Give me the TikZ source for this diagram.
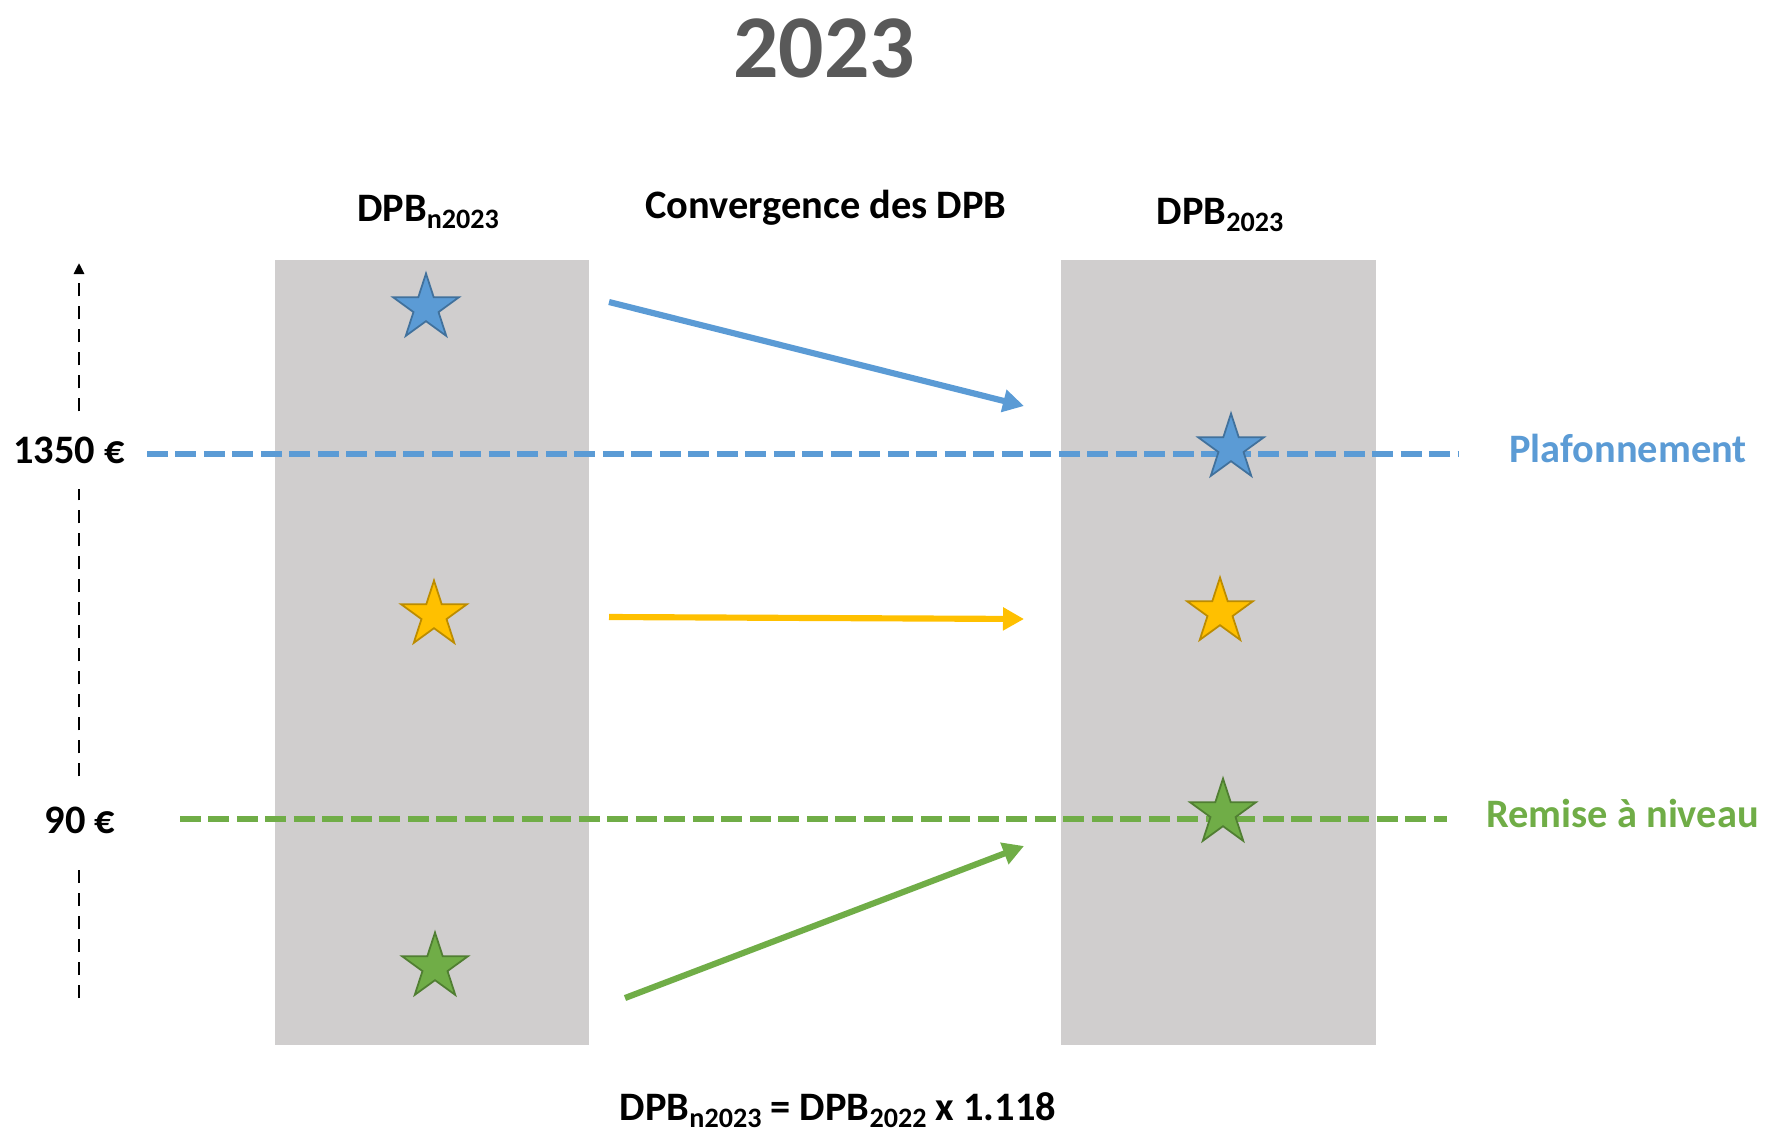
\documentclass[tikz,border=0pt]{standalone}
\usepackage{fontspec}
\setmainfont{Carlito}
\usetikzlibrary{arrows.meta,shapes.geometric}
\definecolor{colgray}{HTML}{D0CECE}
\definecolor{titlegray}{HTML}{595959}
\definecolor{ptblue}{HTML}{5B9BD5}
\definecolor{ptblueedge}{HTML}{41719C}
\definecolor{ptyellow}{HTML}{FFC000}
\definecolor{ptyellowedge}{HTML}{BC8C00}
\definecolor{ptgreen}{HTML}{70AD47}
\definecolor{ptgreenedge}{HTML}{507E32}
\newcommand\low[1]{\raisebox{-0.4ex}{\fontsize{16}{18}\selectfont #1}}

\begin{document}
\begin{tikzpicture}[x=0.02cm, y=-0.02cm,
    lbl/.style={font=\bfseries\fontsize{23}{28}\selectfont, inner sep=0pt},
    pt/.style={star, star points=5, star point ratio=2.618, minimum size=1.38cm,
        inner sep=0pt, line width=1pt},
    level/.style={line width=3.8pt, dash pattern=on 0.42cm off 0.15cm},
    move/.style={line width=3.5pt, -{Triangle[length=0.42cm,width=0.44cm]}},
    axis/.style={line width=1.5pt, dash pattern=on 0.26cm off 0.2cm}]
    \useasboundingbox (0,0) rectangle (1768,1136);

    %%%%% columns %%%%%
    \fill[colgray] (275,260) rectangle (589,1045);
    \fill[colgray] (1061,260) rectangle (1376,1045);

    %%%%% titles %%%%%
    \node[lbl, font=\bfseries\fontsize{51}{60}\selectfont, text=titlegray, anchor=base] (title) at (824,77) {2023};
    \node[lbl, anchor=base] (hdold) at (428,221) {DPB\low{n2023}};
    \node[lbl, anchor=base] (hdconv) at (826,218) {Convergence des DPB};
    \node[lbl, anchor=base] (hdnew) at (1220,224) {DPB\low{2023}};

    %%%%% value axis %%%%%
    \coordinate (axtop) at (79,263);
    \coordinate (axbot) at (79,998);
    \node[lbl, inner ysep=0.5cm] (v1350) at (69,450) {1350 €};
    \node[lbl, inner ysep=0.6cm] (v90) at (80,820) {90 €};
    \draw[axis] (axbot) -- (axbot |- v90.south);
    \draw[axis] (axbot |- v90.north) -- (axbot |- v1350.south);
    \draw[axis, -{Triangle[length=0.22cm,width=0.2cm]}] (axbot |- v1350.north) -- (axtop);

    %%%%% levels %%%%%
    \coordinate (capL) at (147,454);
    \coordinate (capR) at (1458,454);
    \coordinate (floorL) at (180,819);
    \coordinate (floorR) at (1447,819);
    \draw[level, ptblue] (capL) -- (capR);
    \draw[level, ptgreen] (floorL) -- (floorR);
    \node[lbl, text=ptblue, anchor=base west] (cap) at (1509,462) {Plafonnement};
    \node[lbl, text=ptgreen, anchor=base west] (floor) at (1486,827) {Remise à niveau};

    %%%%% points %%%%%
    \node[pt, fill=ptblue, draw=ptblueedge] (oldhi) at (426,308) {};
    \node[pt, fill=ptyellow, draw=ptyellowedge] (oldmid) at (434,615) {};
    \node[pt, fill=ptgreen, draw=ptgreenedge] (oldlo) at (435,967) {};
    \node[pt, fill=ptblue, draw=ptblueedge] (newhi) at (1231,448) {};
    \node[pt, fill=ptyellow, draw=ptyellowedge] (newmid) at (1220,612) {};
    \node[pt, fill=ptgreen, draw=ptgreenedge] (newlo) at (1223,813) {};

    %%%%% convergence %%%%%
    \coordinate (hiA) at (609,302);
    \coordinate (hiB) at (1024,406);
    \coordinate (midA) at (609,617);
    \coordinate (midB) at (1024,619);
    \coordinate (loA) at (625,998);
    \coordinate (loB) at (1024,846);
    \draw[move, ptblue] (hiA) -- (hiB);
    \draw[move, ptyellow] (midA) -- (midB);
    \draw[move, ptgreen] (loA) -- (loB);

    \node[lbl, anchor=base] (rule) at (838,1120) {DPB\low{n2023} = DPB\low{2022} x 1.118};
\end{tikzpicture}
\end{document}
